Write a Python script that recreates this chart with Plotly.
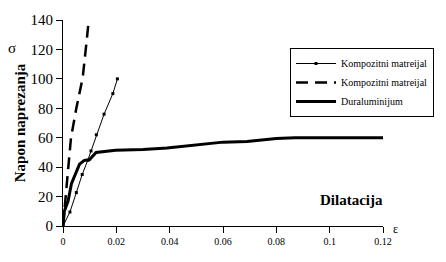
import plotly.graph_objects as go

# Composite material 1 (thin line with markers)
comp1_x = [0, 0.0026, 0.005, 0.0072, 0.0093, 0.0105, 0.0125, 0.0154, 0.0187, 0.0204]
comp1_y = [0, 9.5, 22.7, 35, 44.7, 51, 62, 76, 90, 100]

# Composite material 2 (dashed)
comp2_x = [0, 0.0005, 0.0013, 0.003, 0.005, 0.0074, 0.009, 0.0097]
comp2_y = [0, 10, 25, 60, 80, 101, 128, 141]

# Duraluminium
dur_x = [0, 0.0005, 0.0019, 0.0032, 0.0062, 0.008, 0.0099, 0.0124, 0.0197, 0.03, 0.039, 0.05, 0.06, 0.069, 0.08, 0.087, 0.12]
dur_y = [0, 10, 17, 29, 42, 44.6, 45, 50, 51.5, 52, 53, 55, 57, 57.5, 59.5, 60, 60]

x_ticks = [0, 0.02, 0.04, 0.06, 0.08, 0.1, 0.12]
x_labels = ["0", "0.02", "0.04", "0.06", "0.08", "0.1", "0.12"]
y_ticks = [0, 20, 40, 60, 80, 100, 120, 140]

FONT = "Liberation Serif"

fig = go.Figure()
fig.add_trace(go.Scatter(x=comp1_x, y=comp1_y, mode="lines+markers",
                         name="Kompozitni matreijal",
                         line=dict(color="black", width=1),
                         marker=dict(symbol="square", size=3, color="black")))
fig.add_trace(go.Scatter(x=comp2_x, y=comp2_y, mode="lines",
                         name="Kompozitni matreijal",
                         line=dict(color="black", width=2.5, dash="12px,7px")))
fig.add_trace(go.Scatter(x=dur_x, y=dur_y, mode="lines",
                         name="Duraluminijum",
                         line=dict(color="black", width=3)))

W, H = 446, 262
L, R, T, B = 63, 56, 20, 36
pw, ph = W - L - R, H - T - B

def px2paper(px, py):
    return (px - L) / pw, (H - B - py) / ph

ann = []
for text, px, py, size, anchor in [
    ("σ", 11, 38, 15, "center"),
    ("<b>Dilatacija</b>", 392, 210, 15, "right"),
    ("ε", 403, 238, 12, "center"),
]:
    x, y = px2paper(px, py)
    ann.append(dict(text=text, x=x, y=y, xref="paper", yref="paper", showarrow=False,
                    xanchor=anchor, font=dict(family=FONT, size=size, color="black")))

fig.update_layout(
    width=W, height=H,
    margin=dict(l=L, r=R, t=T, b=B),
    paper_bgcolor="white", plot_bgcolor="white",
    font=dict(family=FONT, color="black"),
    showlegend=True,
    legend=dict(x=(295 - L) / pw, y=(H - B - 48) / ph, xanchor="left", yanchor="top",
                bgcolor="white", bordercolor="black", borderwidth=1,
                font=dict(family=FONT, size=10, color="black"),
                tracegroupgap=0, itemwidth=40),
    xaxis=dict(range=[0, 0.12], tickvals=x_ticks, ticktext=x_labels, ticks="outside", ticklen=6,
               tickcolor="black", showline=True, linecolor="black", linewidth=1,
               showgrid=False, zeroline=False, tickfont=dict(family=FONT, size=10)),
    yaxis=dict(range=[0, 140], tickvals=y_ticks, ticks="outside", ticklen=6,
               tickcolor="black", showline=True, linecolor="black", linewidth=1,
               showgrid=False, zeroline=False, tickfont=dict(family=FONT, size=15),
               title=dict(text="<b>Napon naprezanja</b>", font=dict(family=FONT, size=15),
                          standoff=1)),
    annotations=ann,
)
fig.write_html("out.html")
